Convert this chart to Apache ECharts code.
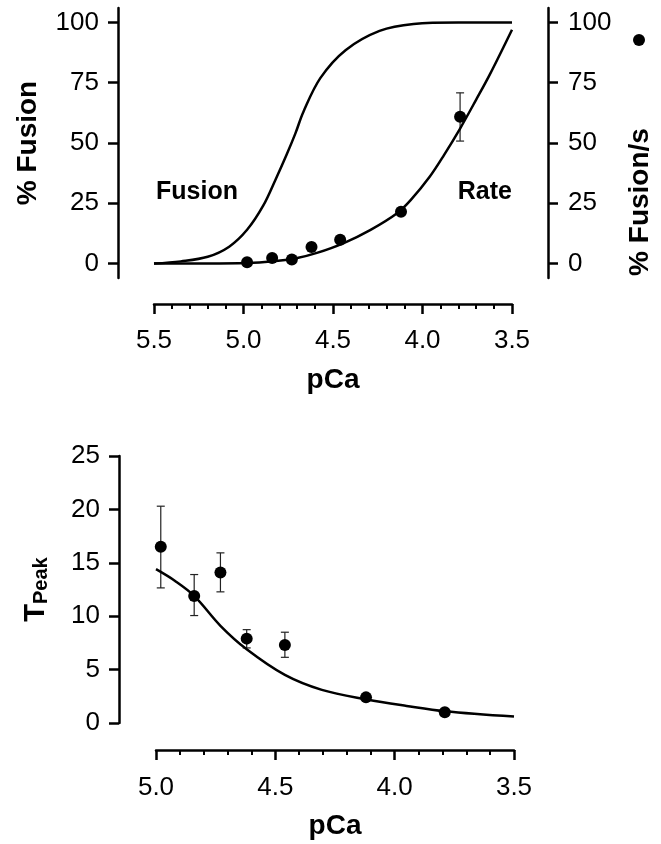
<!DOCTYPE html>
<html>
<head>
<meta charset="utf-8">
<script src="https://cdn.jsdelivr.net/npm/echarts@6/dist/echarts.min.js"></script>
<style>html,body{margin:0;padding:0;background:#fff}#c{width:661px;height:844px}</style>
</head>
<body>
<div id="c"></div>
<script>
// ---- data ----
const pCa = [4.98, 4.84, 4.73, 4.62, 4.46, 4.12, 3.79];
const rateValues = [0.5, 2.3, 1.7, 6.9, 9.9, 21.5, 60.9];
const rateErrPCa = [3.79];
const rateErrLow = [50.8];
const rateErrHigh = [70.8];

const fusionFitX = [5.5, 5.35, 5.2, 5.08, 4.98, 4.89, 4.82, 4.76, 4.71, 4.665, 4.57, 4.43, 4.24, 4.05, 3.8, 3.5];
const fusionFitY = [0, 0.9, 2.8, 7, 14, 24, 35, 45, 54, 63, 77, 88.5, 96.5, 99.4, 100, 100];

const rateFitX = [5.5, 5.2, 4.98, 4.85, 4.70, 4.59, 4.44, 4.29, 4.14, 4.065, 3.96, 3.88, 3.79, 3.70, 3.62, 3.5];
const rateFitY = [0, 0, 0.2, 0.8, 2.3, 4.4, 8.5, 14, 21, 26.4, 36, 45, 56, 68, 79, 97];

const tpeakValues = [16.5, 11.9, 14.1, 7.9, 7.3, 2.4, 1.0];
const tpeakErrPCa = [4.98, 4.84, 4.73, 4.62, 4.46];
const tpeakErrLow = [12.65, 10.06, 12.28, 7.03, 6.15];
const tpeakErrHigh = [20.3, 13.9, 15.93, 8.74, 8.5];

const tpeakFitX = [5.0, 4.92, 4.84, 4.73, 4.62, 4.46, 4.305, 4.116, 3.95, 3.79, 3.5];
const tpeakFitY = [14.4, 13.3, 11.9, 9.1, 6.9, 4.5, 3.1, 2.2, 1.6, 1.1, 0.6];

const topTicks = [0, 25, 50, 75, 100];

// ---- chart ----
const FONT = 'Liberation Sans';
const zip = (a, b) => a.map((v, i) => [v, b[i]]);
const zip3 = (a, b, c) => a.map((v, i) => [v, b[i], c[i]]);

function errRender(params, api) {
  const x = api.value(0);
  const lo = api.coord([x, api.value(1)]);
  const hi = api.coord([x, api.value(2)]);
  const w = 4;
  const st = { stroke: '#222', lineWidth: 1.2, fill: 'none' };
  return {
    type: 'group',
    children: [
      { type: 'line', shape: { x1: lo[0], y1: lo[1], x2: hi[0], y2: hi[1] }, style: st },
      { type: 'line', shape: { x1: lo[0] - w, y1: lo[1], x2: lo[0] + w, y2: lo[1] }, style: st },
      { type: 'line', shape: { x1: hi[0] - w, y1: hi[1], x2: hi[0] + w, y2: hi[1] }, style: st }
    ]
  };
}

const axisLine = { show: true, onZero: false, lineStyle: { color: '#000', width: 2.5 } };
const tickStyle = { color: '#000', width: 2.5 };
const labelStyle = { color: '#000', fontSize: 26, fontFamily: FONT };
const nameStyle = { color: '#000', fontSize: 28, fontWeight: 'bold', fontFamily: FONT };

function xAx(gridIndex, min, max, offset, margin) {
  return {
    type: 'value', gridIndex, min, max, interval: 0.5, inverse: true,
    position: 'bottom', offset,
    axisLine, splitLine: { show: false },
    axisTick: { show: true, length: 10, lineStyle: tickStyle },
    minorTick: { show: true, splitNumber: 5, length: 5, lineStyle: { color: '#000', width: 2 } },
    axisLabel: Object.assign({ margin, formatter: v => v.toFixed(1), hideOverlap: false }, labelStyle),
    name: 'pCa', nameLocation: 'middle', nameGap: 62, nameTextStyle: nameStyle
  };
}

const chart = echarts.init(document.getElementById('c'), null, { renderer: 'canvas' });
chart.setOption({
  animation: false,
  backgroundColor: '#fff',
  textStyle: { fontFamily: FONT },
  legend: {
    data: ['Rate'], left: 628, top: 29, icon: 'circle', itemWidth: 12, itemHeight: 12,
    formatter: () => '', selectedMode: false, textStyle: { fontSize: 1 }
  },
  grid: [
    { left: 154, width: 358, top: 8, height: 270 },
    { left: 156, width: 358, top: 456, height: 267 }
  ],
  xAxis: [xAx(0, 3.5, 5.5, 26, 24), xAx(1, 3.5, 5.0, 27, 25)],
  yAxis: [
    {
      type: 'value', gridIndex: 0, min: -6, max: 106, position: 'left', offset: 36,
      axisLine, splitLine: { show: false },
      axisTick: { show: true, length: 10, lineStyle: tickStyle, customValues: topTicks },
      axisLabel: Object.assign({ margin: 19, customValues: topTicks }, labelStyle),
      name: '% Fusion', nameLocation: 'middle', nameRotate: 90, nameGap: 76, nameTextStyle: nameStyle
    },
    {
      type: 'value', gridIndex: 0, min: -6, max: 106, position: 'right', offset: 36,
      axisLine, splitLine: { show: false },
      axisTick: { show: true, length: 10, lineStyle: tickStyle, customValues: topTicks },
      axisLabel: Object.assign({ margin: 20, customValues: topTicks }, labelStyle)
    },
    {
      type: 'value', gridIndex: 1, min: 0, max: 25, interval: 5, position: 'left', offset: 37,
      axisLine, splitLine: { show: false },
      axisTick: { show: true, length: 10, lineStyle: tickStyle },
      axisLabel: Object.assign({ margin: 19 }, labelStyle),
      name: '{t|T}{p|Peak}', nameLocation: 'middle', nameRotate: 90, nameGap: 68,
      nameTextStyle: {
        rich: {
          t: { fontSize: 29, fontWeight: 'bold', fontFamily: FONT, color: '#000', verticalAlign: 'top', lineHeight: 30 },
          p: { fontSize: 20, fontWeight: 'bold', fontFamily: FONT, color: '#000', verticalAlign: 'bottom', lineHeight: 20, padding: [18, 0, 0, 0] }
        }
      }
    }
  ],
  graphic: [
    { type: 'text', left: 156, top: 180, style: { text: 'Fusion', fontSize: 25, fontWeight: 'bold', fontFamily: FONT, fill: '#000' } },
    { type: 'text', right: 149, top: 180, style: { text: 'Rate', fontSize: 25, fontWeight: 'bold', fontFamily: FONT, fill: '#000' } },
    { type: 'text', x: 640, y: 202, rotation: Math.PI / 2,
      style: { text: '% Fusion/s', fontSize: 28, fontWeight: 'bold', fontFamily: FONT, fill: '#000', align: 'center', verticalAlign: 'middle' } }
  ],
  series: [
    { name: 'FusionFit', type: 'line', xAxisIndex: 0, yAxisIndex: 0, data: zip(fusionFitX, fusionFitY),
      smooth: 0.35, showSymbol: false, lineStyle: { color: '#000', width: 2.5 } },
    { name: 'RateFit', type: 'line', xAxisIndex: 0, yAxisIndex: 1, data: zip(rateFitX, rateFitY),
      smooth: 0.35, showSymbol: false, lineStyle: { color: '#000', width: 2.5 } },
    { name: 'RateErr', type: 'custom', xAxisIndex: 0, yAxisIndex: 1, renderItem: errRender,
      data: zip3(rateErrPCa, rateErrLow, rateErrHigh), z: 3 },
    { name: 'Rate', type: 'scatter', xAxisIndex: 0, yAxisIndex: 1, data: zip(pCa, rateValues),
      symbolSize: 12, itemStyle: { color: '#000', opacity: 1 }, z: 4 },
    { name: 'TPeakFit', type: 'line', xAxisIndex: 1, yAxisIndex: 2, data: zip(tpeakFitX, tpeakFitY),
      smooth: 0.35, showSymbol: false, lineStyle: { color: '#000', width: 2.5 } },
    { name: 'TPeakErr', type: 'custom', xAxisIndex: 1, yAxisIndex: 2, renderItem: errRender,
      data: zip3(tpeakErrPCa, tpeakErrLow, tpeakErrHigh), z: 3 },
    { name: 'TPeak', type: 'scatter', xAxisIndex: 1, yAxisIndex: 2, data: zip(pCa, tpeakValues),
      symbolSize: 12, itemStyle: { color: '#000', opacity: 1 }, z: 4 }
  ]
});
</script>
</body>
</html>
